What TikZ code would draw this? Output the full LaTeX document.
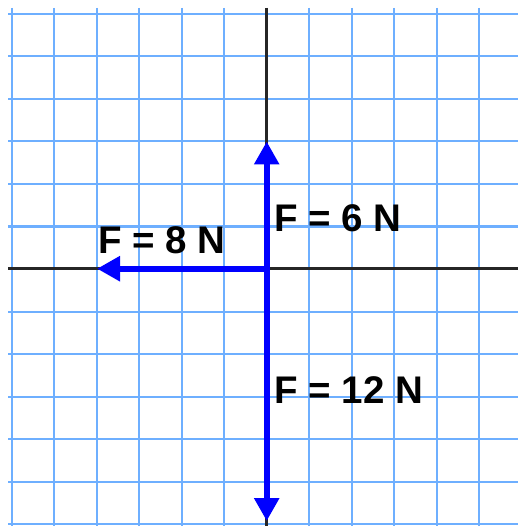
\documentclass[tikz,border=0pt]{standalone}
\usepackage{fontspec}
\setmainfont{Liberation Sans}
\usetikzlibrary{arrows.meta}
\definecolor{gridblue}{RGB}{110,175,255}
\definecolor{forceblue}{RGB}{0,0,255}
\tikzset{
  gridline/.style={draw=gridblue, line width=2pt},
  axisline/.style={draw=black!85, line width=2.6pt},
  force/.style={draw=forceblue, line width=6pt, -{Triangle[width=24pt,length=23pt]}},
  flabel/.style={anchor=base west, inner sep=0pt, font=\fontsize{38.5}{42}\selectfont\bfseries}
}
\begin{document}
\begin{tikzpicture}[x=1pt,y=-1pt]
\useasboundingbox (0,0) rectangle (518,526);
\fill[white] (0,0) rectangle (518,526);
% grid
\foreach \k in {0,...,11} {
  \draw[gridline] ({12+42.45*\k},8) -- ({12+42.45*\k},526);
}
\foreach \k in {0,...,12} {
  \draw[gridline] (8,{14+42.5*\k}) -- (518,{14+42.5*\k});
}
% axes
\coordinate (O) at (266.7,268.7);
\coordinate (xl) at (8,268.7);
\coordinate (xr) at (518,268.7);
\coordinate (yt) at (266.7,8);
\coordinate (yb) at (266.7,526);
\draw[axisline] (xl) -- (xr);
\draw[axisline] (yt) -- (yb);
% forces
\coordinate (Oleft) at (269.7,268.7);
\coordinate (tipUp) at (266.7,141.5);
\coordinate (tipLeft) at (97,268.7);
\coordinate (tipDown) at (266.7,521);
\draw[force] (O) -- (tipUp);
\draw[force] (O) -- (tipDown);
\draw[force] (Oleft) -- (tipLeft);
% labels
\node[flabel] (l6) at (274.3,231.7) {F = 6 N};
\node[flabel] (l8) at (98.3,253.3) {F = 8 N};
\node[flabel] (l12) at (274.3,403.3) {F = 12 N};
\end{tikzpicture}
\end{document}
